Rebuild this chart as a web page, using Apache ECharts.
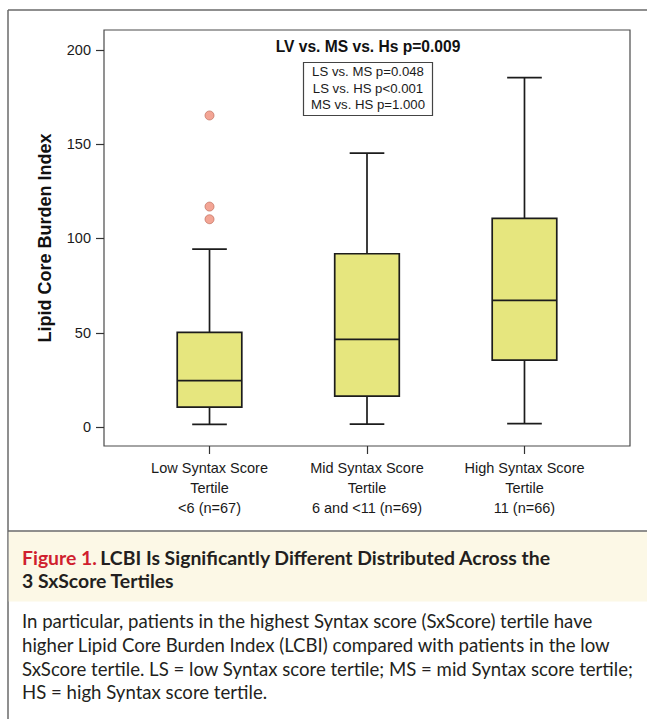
<!DOCTYPE html>
<html>
<head>
<meta charset="utf-8">
<script src="https://cdn.jsdelivr.net/npm/echarts@6/dist/echarts.min.js"></script>
<style>
  html, body { margin: 0; padding: 0; background: #fff; }
  #chart { width: 647px; height: 719px; }
</style>
</head>
<body>
<div id="chart"></div>
<script>
// ---- data ----
const categories = ['Low Syntax Score\nTertile\n<6 (n=67)', 'Mid Syntax Score\nTertile\n6 and <11 (n=69)', 'High Syntax Score\nTertile\n11 (n=66)'];
const positions = [1, 2, 3];
const whiskerLow = [1.5, 1.6, 1.9];
const q1 = [10.6, 16.4, 35.5];
const median = [24.6, 46.5, 67.2];
const q3 = [50.2, 91.9, 110.7];
const whiskerHigh = [94.4, 145.2, 185.3];
const outlierGroup = [1, 1, 1];
const outlierValues = [165.2, 116.9, 110.2];
const yTicks = [0, 50, 100, 150, 200];
const titleText = 'LV vs. MS vs. Hs p=0.009';
const pairText = ['LS vs. MS p=0.048', 'LS vs. HS p<0.001', 'MS vs. HS p=1.000'];
const captionTitle1 = 'LCBI Is Significantly Different Distributed Across the';
const captionTitle2 = '3 SxScore Tertiles';
const captionBody = [
  'In particular, patients in the highest Syntax score (SxScore) tertile have',
  'higher Lipid Core Burden Index (LCBI) compared with patients in the low',
  'SxScore tertile. LS = low Syntax score tertile; MS = mid Syntax score tertile;',
  'HS = high Syntax score tertile.'
];

// ---- styles ----
const BOX_W = 0.41;
const CAP_W = 0.22;
const STROKE = '#1c1c1c';
const FILL = '#E6E67E';
const FONT = '"Liberation Sans", Arial, sans-serif';
const CAP_FONT = 'Lato, "Open Sans", sans-serif';

const boxData = positions.map((p, i) => [p, whiskerLow[i], q1[i], median[i], q3[i], whiskerHigh[i]]);
const outlierData = outlierGroup.map((g, i) => [g, outlierValues[i]]);

const chart = echarts.init(document.getElementById('chart'), null, { renderer: 'svg' });

chart.setOption({
  animation: false,
  backgroundColor: '#fff',
  grid: {
    left: 104, top: 30, width: 526, height: 416,
    show: true, borderColor: '#4a4a4a', borderWidth: 1.2, backgroundColor: 'transparent'
  },
  xAxis: {
    type: 'value', min: 0.33, max: 3.67,
    axisLine: { show: false, onZero: false },
    splitLine: { show: false },
    axisTick: { show: true, customValues: positions, length: 8, lineStyle: { color: '#333', width: 1.2 } },
    axisLabel: {
      customValues: positions,
      formatter: v => categories[Math.round(v) - 1] || '',
      fontFamily: FONT, fontSize: 14.5, color: '#1a1a1a', lineHeight: 20, margin: 12
    }
  },
  yAxis: {
    type: 'value', min: -10, max: 210.5,
    axisLine: { show: false, onZero: false },
    splitLine: { show: false },
    axisTick: { show: true, customValues: yTicks, length: 8, lineStyle: { color: '#333', width: 1.2 } },
    axisLabel: { customValues: yTicks, fontFamily: FONT, fontSize: 14.5, color: '#1a1a1a', margin: 13 },
    name: 'Lipid Core Burden Index',
    nameLocation: 'middle', nameRotate: 90, nameGap: 50,
    nameTextStyle: { fontFamily: FONT, fontSize: 18, fontWeight: 'bold', color: '#111' }
  },
  series: [
    {
      type: 'custom',
      data: boxData,
      encode: { x: 0, y: [1, 2, 3, 4, 5] },
      clip: false,
      renderItem: function (params, api) {
        const x = api.value(0);
        const lo = api.coord([x, api.value(1)]);
        const b1 = api.coord([x, api.value(2)]);
        const md = api.coord([x, api.value(3)]);
        const b3 = api.coord([x, api.value(4)]);
        const hi = api.coord([x, api.value(5)]);
        const hw = api.size([BOX_W, 0])[0] / 2;
        const cw = api.size([CAP_W, 0])[0] / 2;
        const st = { stroke: STROKE, lineWidth: 1.7, fill: null };
        return {
          type: 'group',
          children: [
            { type: 'line', shape: { x1: lo[0], y1: lo[1], x2: b1[0], y2: b1[1] }, style: st },
            { type: 'line', shape: { x1: b3[0], y1: b3[1], x2: hi[0], y2: hi[1] }, style: st },
            { type: 'line', shape: { x1: lo[0] - cw, y1: lo[1], x2: lo[0] + cw, y2: lo[1] }, style: st },
            { type: 'line', shape: { x1: hi[0] - cw, y1: hi[1], x2: hi[0] + cw, y2: hi[1] }, style: st },
            { type: 'rect', shape: { x: b3[0] - hw, y: b3[1], width: 2 * hw, height: b1[1] - b3[1] },
              style: { fill: FILL, stroke: STROKE, lineWidth: 1.7 } },
            { type: 'line', shape: { x1: md[0] - hw, y1: md[1], x2: md[0] + hw, y2: md[1] }, style: st }
          ]
        };
      }
    },
    {
      type: 'scatter',
      data: outlierData,
      symbol: 'circle',
      symbolSize: 9,
      itemStyle: { color: '#F08F7A', borderColor: '#B8624F', borderWidth: 0.8 }
    }
  ],
  graphic: [
    // outer page frame
    { type: 'line', shape: { x1: 8, y1: 10, x2: 647, y2: 10 }, style: { stroke: '#6a6a6a', lineWidth: 1.5 } },
    { type: 'line', shape: { x1: 8, y1: 10, x2: 8, y2: 719 }, style: { stroke: '#6a6a6a', lineWidth: 1.5 } },
    { type: 'rect', shape: { x: 8.75, y: 531.5, width: 640, height: 70 }, style: { fill: '#FCF8E6' } },
    { type: 'line', shape: { x1: 8, y1: 531, x2: 647, y2: 531 }, style: { stroke: '#6a6a6a', lineWidth: 1.5 } },
    // plot title
    { type: 'text', x: 368, y: 46, style: { text: titleText, fontFamily: FONT, fontSize: 15.6, fontWeight: 'bold',
      fill: '#111', align: 'center', verticalAlign: 'middle' } },
    // pairwise box
    { type: 'rect', shape: { x: 303.5, y: 62.5, width: 129, height: 53 }, style: { fill: '#fff', stroke: '#444', lineWidth: 1.2 } },
    { type: 'text', x: 368, y: 71.5, style: { text: pairText[0], fontFamily: FONT, fontSize: 13.2, fill: '#1a1a1a', align: 'center', verticalAlign: 'middle' } },
    { type: 'text', x: 368, y: 88, style: { text: pairText[1], fontFamily: FONT, fontSize: 13.2, fill: '#1a1a1a', align: 'center', verticalAlign: 'middle' } },
    { type: 'text', x: 368, y: 104.5, style: { text: pairText[2], fontFamily: FONT, fontSize: 13.2, fill: '#1a1a1a', align: 'center', verticalAlign: 'middle' } },
    // caption
    { type: 'text', x: 22, y: 557, style: {
      text: '{r|Figure 1.} {b|' + captionTitle1 + '}',
      verticalAlign: 'middle',
      rich: {
        r: { fontFamily: CAP_FONT, fontSize: 19.4, fontWeight: 'bold', fill: '#D01F2E' },
        b: { fontFamily: CAP_FONT, fontSize: 19.4, fontWeight: 'bold', fill: '#231F20' }
      } } },
    { type: 'text', x: 22, y: 580, style: { text: captionTitle2, fontFamily: CAP_FONT, fontSize: 19.4, fontWeight: 'bold', fill: '#231F20', verticalAlign: 'middle' } },
    { type: 'text', x: 22, y: 621, style: { text: captionBody[0], fontFamily: CAP_FONT, fontSize: 18.6, fill: '#231F20', verticalAlign: 'middle' } },
    { type: 'text', x: 22, y: 645, style: { text: captionBody[1], fontFamily: CAP_FONT, fontSize: 18.6, fill: '#231F20', verticalAlign: 'middle' } },
    { type: 'text', x: 22, y: 668.5, style: { text: captionBody[2], fontFamily: CAP_FONT, fontSize: 18.6, fill: '#231F20', verticalAlign: 'middle' } },
    { type: 'text', x: 22, y: 692, style: { text: captionBody[3], fontFamily: CAP_FONT, fontSize: 18.6, fill: '#231F20', verticalAlign: 'middle' } }
  ]
});
</script>
</body>
</html>
